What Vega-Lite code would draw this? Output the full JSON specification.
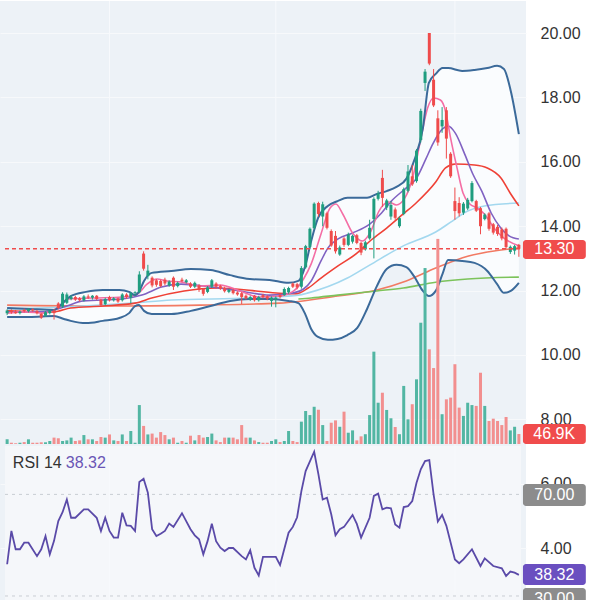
{
"$schema": "https://vega.github.io/schema/vega-lite/v6.json",
"width": 526, "height": 600, "padding": 0,
"background": "#ffffff",
"config": {"view": {"fill": "#edf2f7", "stroke": null}, "font": "Liberation Sans"},
"datasets": {
"k": [
{"i":0,"o":11.30,"h":11.42,"l":11.24,"c":11.38,"v":22},
{"i":1,"o":11.38,"h":11.42,"l":11.28,"c":11.33,"v":6},
{"i":2,"o":11.34,"h":11.40,"l":11.28,"c":11.30,"v":4},
{"i":3,"o":11.30,"h":11.38,"l":11.26,"c":11.35,"v":6},
{"i":4,"o":11.40,"h":11.44,"l":11.32,"c":11.36,"v":9},
{"i":5,"o":11.36,"h":11.46,"l":11.32,"c":11.42,"v":22},
{"i":6,"o":11.42,"h":11.45,"l":11.34,"c":11.38,"v":6},
{"i":7,"o":11.36,"h":11.40,"l":11.26,"c":11.30,"v":6},
{"i":8,"o":11.28,"h":11.30,"l":11.12,"c":11.16,"v":8},
{"i":9,"o":11.22,"h":11.36,"l":11.18,"c":11.33,"v":8},
{"i":10,"o":11.30,"h":11.40,"l":11.26,"c":11.38,"v":14},
{"i":11,"o":11.38,"h":11.42,"l":11.10,"c":11.30,"v":30},
{"i":12,"o":11.60,"h":11.64,"l":11.42,"c":11.46,"v":27},
{"i":13,"o":11.50,"h":11.95,"l":11.46,"c":11.90,"v":14},
{"i":14,"o":11.62,"h":11.94,"l":11.58,"c":11.88,"v":17},
{"i":15,"o":11.74,"h":11.86,"l":11.70,"c":11.80,"v":30},
{"i":16,"o":11.80,"h":11.84,"l":11.68,"c":11.72,"v":14},
{"i":17,"o":11.76,"h":11.80,"l":11.66,"c":11.70,"v":17},
{"i":18,"o":11.70,"h":11.86,"l":11.66,"c":11.82,"v":42},
{"i":19,"o":11.82,"h":11.88,"l":11.74,"c":11.78,"v":22},
{"i":20,"o":11.78,"h":11.86,"l":11.72,"c":11.84,"v":22},
{"i":21,"o":11.84,"h":11.86,"l":11.70,"c":11.74,"v":14},
{"i":22,"o":11.72,"h":11.74,"l":11.50,"c":11.55,"v":33},
{"i":23,"o":11.58,"h":11.78,"l":11.54,"c":11.74,"v":30},
{"i":24,"o":11.80,"h":11.84,"l":11.66,"c":11.70,"v":45},
{"i":25,"o":11.70,"h":11.80,"l":11.66,"c":11.76,"v":17},
{"i":26,"o":11.76,"h":11.78,"l":11.62,"c":11.66,"v":14},
{"i":27,"o":11.70,"h":11.92,"l":11.66,"c":11.88,"v":45},
{"i":28,"o":11.88,"h":11.92,"l":11.74,"c":11.80,"v":14},
{"i":29,"o":11.78,"h":11.96,"l":11.60,"c":11.92,"v":61},
{"i":30,"o":11.92,"h":11.98,"l":11.84,"c":11.95,"v":6},
{"i":31,"o":11.95,"h":12.60,"l":11.92,"c":12.50,"v":183},
{"i":32,"o":13.15,"h":13.22,"l":12.62,"c":12.68,"v":85},
{"i":33,"o":12.45,"h":12.80,"l":12.35,"c":12.62,"v":45},
{"i":34,"o":12.40,"h":12.44,"l":12.10,"c":12.16,"v":49},
{"i":35,"o":12.32,"h":12.36,"l":12.12,"c":12.18,"v":30},
{"i":36,"o":12.30,"h":12.34,"l":12.10,"c":12.14,"v":56},
{"i":37,"o":12.34,"h":12.40,"l":12.16,"c":12.22,"v":42},
{"i":38,"o":12.16,"h":12.32,"l":12.12,"c":12.28,"v":22},
{"i":39,"o":12.40,"h":12.44,"l":12.02,"c":12.12,"v":30},
{"i":40,"o":12.14,"h":12.28,"l":12.10,"c":12.24,"v":6},
{"i":41,"o":12.34,"h":12.40,"l":12.26,"c":12.30,"v":14},
{"i":42,"o":12.26,"h":12.36,"l":12.22,"c":12.32,"v":6},
{"i":43,"o":12.22,"h":12.26,"l":12.08,"c":12.12,"v":39},
{"i":44,"o":12.12,"h":12.28,"l":12.08,"c":12.24,"v":17},
{"i":45,"o":12.16,"h":12.20,"l":11.96,"c":12.02,"v":42},
{"i":46,"o":12.05,"h":12.08,"l":11.84,"c":11.90,"v":30},
{"i":47,"o":11.96,"h":12.14,"l":11.92,"c":12.10,"v":33},
{"i":48,"o":12.12,"h":12.36,"l":12.08,"c":12.32,"v":49},
{"i":49,"o":12.22,"h":12.26,"l":12.06,"c":12.12,"v":17},
{"i":50,"o":12.14,"h":12.18,"l":12.02,"c":12.06,"v":9},
{"i":51,"o":12.08,"h":12.12,"l":11.94,"c":11.98,"v":30},
{"i":52,"o":11.96,"h":12.06,"l":11.92,"c":12.02,"v":30},
{"i":53,"o":12.02,"h":12.06,"l":11.88,"c":11.92,"v":30},
{"i":54,"o":11.94,"h":11.98,"l":11.84,"c":11.88,"v":22},
{"i":55,"o":11.92,"h":11.96,"l":11.58,"c":11.80,"v":89},
{"i":56,"o":11.84,"h":11.88,"l":11.72,"c":11.76,"v":30},
{"i":57,"o":11.72,"h":11.84,"l":11.68,"c":11.80,"v":30},
{"i":58,"o":11.84,"h":11.86,"l":11.66,"c":11.70,"v":17},
{"i":59,"o":11.70,"h":11.84,"l":11.66,"c":11.80,"v":9},
{"i":60,"o":11.86,"h":11.90,"l":11.76,"c":11.80,"v":6},
{"i":61,"o":11.82,"h":11.86,"l":11.70,"c":11.75,"v":6},
{"i":62,"o":11.68,"h":11.82,"l":11.50,"c":11.78,"v":14},
{"i":63,"o":11.72,"h":11.82,"l":11.48,"c":11.78,"v":22},
{"i":64,"o":11.86,"h":11.90,"l":11.76,"c":11.80,"v":9},
{"i":65,"o":11.86,"h":12.10,"l":11.84,"c":12.05,"v":14},
{"i":66,"o":11.95,"h":12.12,"l":11.90,"c":12.08,"v":61},
{"i":67,"o":12.22,"h":12.25,"l":12.08,"c":12.12,"v":14},
{"i":68,"o":12.20,"h":12.24,"l":12.04,"c":12.10,"v":9},
{"i":69,"o":12.12,"h":12.76,"l":12.06,"c":12.70,"v":105},
{"i":70,"o":12.72,"h":13.42,"l":12.68,"c":13.38,"v":155},
{"i":71,"o":13.36,"h":13.96,"l":13.30,"c":13.92,"v":136},
{"i":72,"o":13.94,"h":14.74,"l":13.90,"c":14.70,"v":175},
{"i":73,"o":14.72,"h":14.76,"l":14.30,"c":14.38,"v":161},
{"i":74,"o":14.30,"h":14.76,"l":14.00,"c":14.68,"v":89},
{"i":75,"o":14.40,"h":14.45,"l":13.90,"c":13.95,"v":14},
{"i":76,"o":13.85,"h":13.90,"l":13.36,"c":13.40,"v":100},
{"i":77,"o":13.70,"h":13.85,"l":13.15,"c":13.22,"v":111},
{"i":78,"o":13.12,"h":13.40,"l":13.08,"c":13.34,"v":81},
{"i":79,"o":13.62,"h":13.66,"l":13.36,"c":13.42,"v":152},
{"i":80,"o":13.42,"h":13.80,"l":13.38,"c":13.74,"v":53},
{"i":81,"o":13.52,"h":13.74,"l":13.46,"c":13.70,"v":64},
{"i":82,"o":13.72,"h":13.76,"l":13.44,"c":13.48,"v":17},
{"i":83,"o":13.48,"h":13.52,"l":13.10,"c":13.18,"v":36},
{"i":84,"o":13.28,"h":13.55,"l":13.24,"c":13.50,"v":46},
{"i":85,"o":13.62,"h":14.20,"l":13.58,"c":13.95,"v":136},
{"i":86,"o":14.22,"h":14.90,"l":13.00,"c":14.85,"v":434},
{"i":87,"o":14.85,"h":15.10,"l":14.80,"c":15.02,"v":194},
{"i":88,"o":15.50,"h":15.75,"l":14.60,"c":14.88,"v":241},
{"i":89,"o":14.58,"h":14.85,"l":14.50,"c":14.80,"v":160},
{"i":90,"o":14.30,"h":14.78,"l":14.20,"c":14.66,"v":121},
{"i":91,"o":14.52,"h":14.58,"l":14.20,"c":14.26,"v":80},
{"i":92,"o":14.00,"h":14.30,"l":13.95,"c":14.25,"v":46},
{"i":93,"o":14.38,"h":15.20,"l":14.34,"c":15.15,"v":273},
{"i":94,"o":15.10,"h":15.90,"l":15.05,"c":15.70,"v":116},
{"i":95,"o":15.55,"h":15.90,"l":15.25,"c":15.30,"v":187},
{"i":96,"o":15.40,"h":16.40,"l":15.35,"c":16.35,"v":304},
{"i":97,"o":16.68,"h":17.65,"l":16.60,"c":17.58,"v":570},
{"i":98,"o":18.45,"h":18.88,"l":18.20,"c":18.80,"v":827},
{"i":99,"o":20.00,"h":20.00,"l":19.00,"c":19.05,"v":445},
{"i":100,"o":18.55,"h":18.88,"l":17.70,"c":17.75,"v":357},
{"i":101,"o":17.35,"h":17.60,"l":16.50,"c":16.60,"v":964},
{"i":102,"o":17.10,"h":17.70,"l":16.90,"c":17.30,"v":140},
{"i":103,"o":17.60,"h":17.70,"l":16.10,"c":16.72,"v":210},
{"i":104,"o":16.25,"h":16.30,"l":15.50,"c":15.55,"v":218},
{"i":105,"o":14.78,"h":15.20,"l":14.20,"c":14.47,"v":375},
{"i":106,"o":14.72,"h":14.90,"l":14.30,"c":14.40,"v":171},
{"i":107,"o":14.42,"h":14.75,"l":14.35,"c":14.70,"v":132},
{"i":108,"o":14.55,"h":14.88,"l":14.50,"c":14.82,"v":194},
{"i":109,"o":14.78,"h":15.40,"l":14.74,"c":15.34,"v":183},
{"i":110,"o":14.78,"h":14.82,"l":14.44,"c":14.48,"v":179},
{"i":111,"o":14.56,"h":14.60,"l":13.75,"c":14.00,"v":335},
{"i":112,"o":14.22,"h":14.40,"l":14.18,"c":14.36,"v":179},
{"i":113,"o":14.40,"h":14.44,"l":13.86,"c":13.92,"v":108},
{"i":114,"o":14.06,"h":14.10,"l":13.74,"c":13.80,"v":119},
{"i":115,"o":13.98,"h":14.04,"l":13.70,"c":13.76,"v":108},
{"i":116,"o":13.90,"h":13.96,"l":13.56,"c":13.62,"v":89},
{"i":117,"o":13.92,"h":13.96,"l":13.30,"c":13.35,"v":127},
{"i":118,"o":13.20,"h":13.40,"l":13.14,"c":13.36,"v":64},
{"i":119,"o":13.24,"h":13.42,"l":13.12,"c":13.38,"v":81},
{"i":120,"o":13.42,"h":13.45,"l":13.05,"c":13.30,"v":46.9}
],
"bb": [
{"i":0,"u":11.46,"l":11.18},{"i":5.2,"u":11.43,"l":11.18},{"i":11,"u":11.40,"l":11.21},{"i":13.3,"u":11.65,"l":11.12},
{"i":14.9,"u":11.83,"l":11.06},{"i":18.5,"u":11.96,"l":10.99},{"i":22.4,"u":12.02,"l":11.06},{"i":26.3,"u":12.02,"l":11.15},
{"i":28.6,"u":11.96,"l":11.30},{"i":30,"u":11.86,"l":11.52},{"i":30.9,"u":11.96,"l":11.55},{"i":32.1,"u":12.30,"l":11.37},
{"i":33.9,"u":12.55,"l":11.27},{"i":38.5,"u":12.61,"l":11.27},{"i":43.1,"u":12.67,"l":11.37},{"i":47.7,"u":12.64,"l":11.52},
{"i":52.3,"u":12.48,"l":11.68},{"i":56.9,"u":12.36,"l":11.74},{"i":61.5,"u":12.33,"l":11.74},{"i":66,"u":12.24,"l":11.68},
{"i":68.3,"u":12.30,"l":11.61},{"i":69.9,"u":12.76,"l":11.27},{"i":71.3,"u":13.54,"l":10.81},{"i":72.9,"u":14.25,"l":10.56},
{"i":75.2,"u":14.63,"l":10.47},{"i":77.5,"u":14.78,"l":10.50},{"i":79.8,"u":14.88,"l":10.62},{"i":82.1,"u":14.88,"l":10.84},
{"i":84.4,"u":14.88,"l":11.43},{"i":86.7,"u":15.00,"l":12.14},{"i":89,"u":15.09,"l":12.67},{"i":91.3,"u":15.22,"l":12.80},
{"i":93.6,"u":15.47,"l":12.73},{"i":95.4,"u":16.02,"l":12.45},{"i":97.5,"u":17.05,"l":11.99},{"i":98.9,"u":18.45,"l":11.83},
{"i":100.5,"u":18.73,"l":11.99},{"i":102.1,"u":18.91,"l":12.52},{"i":103.4,"u":18.91,"l":12.95},{"i":106.7,"u":18.82,"l":12.92},
{"i":109.6,"u":18.85,"l":12.86},{"i":112.6,"u":18.91,"l":12.61},{"i":114.9,"u":18.98,"l":12.20},{"i":116.5,"u":18.88,"l":11.93},
{"i":118.1,"u":18.20,"l":11.99},{"i":120,"u":16.86,"l":12.24}
],
"ln": [
{"s":"MA120","i":0,"v":11.55},{"s":"MA120","i":22.4,"v":11.52},{"s":"MA120","i":45.4,"v":11.55},{"s":"MA120","i":63.8,"v":11.61},{"s":"MA120","i":77.5,"v":11.83},{"s":"MA120","i":86.7,"v":12.02},{"s":"MA120","i":93.6,"v":12.30},{"s":"MA120","i":100.5,"v":12.70},{"s":"MA120","i":108,"v":13.07},{"s":"MA120","i":114.2,"v":13.23},{"s":"MA120","i":120,"v":13.32},
{"s":"MA250","i":68.3,"v":11.74},{"s":"MA250","i":71.3,"v":11.77},{"s":"MA250","i":77.5,"v":11.86},{"s":"MA250","i":86.7,"v":11.99},{"s":"MA250","i":92.9,"v":12.08},{"s":"MA250","i":100.5,"v":12.26},{"s":"MA250","i":108,"v":12.36},{"s":"MA250","i":120,"v":12.42},
{"s":"MA60","i":0,"v":11.43},{"s":"MA60","i":13.3,"v":11.49},{"s":"MA60","i":29.3,"v":11.61},{"s":"MA60","i":38.5,"v":11.71},{"s":"MA60","i":56.9,"v":11.77},{"s":"MA60","i":68.3,"v":11.86},{"s":"MA60","i":70.6,"v":11.93},{"s":"MA60","i":79.8,"v":12.39},{"s":"MA60","i":85.1,"v":12.80},{"s":"MA60","i":92.9,"v":13.39},{"s":"MA60","i":100.5,"v":13.82},{"s":"MA60","i":104.4,"v":14.16},{"s":"MA60","i":108,"v":14.47},{"s":"MA60","i":111.9,"v":14.63},{"s":"MA60","i":120,"v":14.72},
{"s":"MA20","i":0,"v":11.37},{"s":"MA20","i":11,"v":11.34},{"s":"MA20","i":14.9,"v":11.46},{"s":"MA20","i":22.4,"v":11.52},{"s":"MA20","i":30,"v":11.61},{"s":"MA20","i":33.9,"v":11.77},{"s":"MA20","i":41.5,"v":11.99},{"s":"MA20","i":49.3,"v":12.08},{"s":"MA20","i":57.6,"v":12.0},{"s":"MA20","i":63.8,"v":11.92},{"s":"MA20","i":67.7,"v":11.90},{"s":"MA20","i":70.6,"v":12.08},{"s":"MA20","i":73.6,"v":12.39},{"s":"MA20","i":77.5,"v":12.76},{"s":"MA20","i":82.1,"v":13.17},{"s":"MA20","i":85.1,"v":13.54},{"s":"MA20","i":89,"v":13.94},{"s":"MA20","i":92.9,"v":14.38},{"s":"MA20","i":95.9,"v":14.72},{"s":"MA20","i":100.5,"v":15.37},{"s":"MA20","i":102.8,"v":15.81},{"s":"MA20","i":105.1,"v":15.93},{"s":"MA20","i":109.6,"v":15.90},{"s":"MA20","i":112.6,"v":15.81},{"s":"MA20","i":115.8,"v":15.50},{"s":"MA20","i":118.1,"v":15.00},{"s":"MA20","i":120,"v":14.63},
{"s":"MA10","i":0,"v":11.34},{"s":"MA10","i":8.7,"v":11.34},{"s":"MA10","i":13.3,"v":11.49},{"s":"MA10","i":17.9,"v":11.68},{"s":"MA10","i":27,"v":11.74},{"s":"MA10","i":31.6,"v":11.86},{"s":"MA10","i":36.2,"v":12.11},{"s":"MA10","i":40.8,"v":12.20},{"s":"MA10","i":47.7,"v":12.11},{"s":"MA10","i":54.6,"v":11.99},{"s":"MA10","i":61.5,"v":11.86},{"s":"MA10","i":67.2,"v":11.93},{"s":"MA10","i":69.5,"v":12.05},{"s":"MA10","i":71.3,"v":12.30},{"s":"MA10","i":73.6,"v":12.92},{"s":"MA10","i":75.2,"v":13.32},{"s":"MA10","i":77.5,"v":13.60},{"s":"MA10","i":81,"v":13.79},{"s":"MA10","i":85.1,"v":14.07},{"s":"MA10","i":87.8,"v":14.41},{"s":"MA10","i":90.1,"v":14.78},{"s":"MA10","i":93.6,"v":15.19},{"s":"MA10","i":95.9,"v":15.47},{"s":"MA10","i":98.2,"v":16.09},{"s":"MA10","i":99.8,"v":16.55},{"s":"MA10","i":102.1,"v":17.02},{"s":"MA10","i":103.4,"v":17.11},{"s":"MA10","i":105.1,"v":16.89},{"s":"MA10","i":107.3,"v":16.24},{"s":"MA10","i":109.2,"v":15.62},{"s":"MA10","i":111.3,"v":15.09},{"s":"MA10","i":113.5,"v":14.41},{"s":"MA10","i":115.8,"v":13.94},{"s":"MA10","i":117.7,"v":13.70},{"s":"MA10","i":120,"v":13.60},
{"s":"MA5","i":0,"v":11.30},{"s":"MA5","i":4.1,"v":11.34},{"s":"MA5","i":8.7,"v":11.30},{"s":"MA5","i":12.1,"v":11.49},{"s":"MA5","i":14.4,"v":11.74},{"s":"MA5","i":20.2,"v":11.77},{"s":"MA5","i":27,"v":11.80},{"s":"MA5","i":30.5,"v":11.89},{"s":"MA5","i":32.8,"v":12.20},{"s":"MA5","i":35.1,"v":12.36},{"s":"MA5","i":37.4,"v":12.30},{"s":"MA5","i":40.8,"v":12.27},{"s":"MA5","i":45.4,"v":12.14},{"s":"MA5","i":50,"v":12.17},{"s":"MA5","i":54.6,"v":11.99},{"s":"MA5","i":59.2,"v":11.80},{"s":"MA5","i":63.8,"v":11.83},{"s":"MA5","i":67.2,"v":11.99},{"s":"MA5","i":69.5,"v":12.36},{"s":"MA5","i":71.3,"v":12.83},{"s":"MA5","i":73.6,"v":13.76},{"s":"MA5","i":75.7,"v":14.56},{"s":"MA5","i":77.1,"v":14.69},{"s":"MA5","i":78.7,"v":14.38},{"s":"MA5","i":81,"v":13.79},{"s":"MA5","i":83.3,"v":13.54},{"s":"MA5","i":85.1,"v":13.79},{"s":"MA5","i":87.2,"v":14.47},{"s":"MA5","i":89.5,"v":14.75},{"s":"MA5","i":91.3,"v":14.66},{"s":"MA5","i":93.1,"v":14.84},{"s":"MA5","i":95.2,"v":15.56},{"s":"MA5","i":97,"v":16.71},{"s":"MA5","i":98.6,"v":17.67},{"s":"MA5","i":100,"v":17.98},{"s":"MA5","i":101.6,"v":17.92},{"s":"MA5","i":102.8,"v":17.58},{"s":"MA5","i":103.9,"v":16.80},{"s":"MA5","i":105.5,"v":15.81},{"s":"MA5","i":106.9,"v":15.03},{"s":"MA5","i":108.5,"v":14.69},{"s":"MA5","i":110.1,"v":14.57},{"s":"MA5","i":111.9,"v":14.38},{"s":"MA5","i":114.2,"v":13.94},{"s":"MA5","i":116.5,"v":13.63},{"s":"MA5","i":120,"v":13.39}
],
"rsi": [
{"i":0,"r":42.5},{"i":1,"r":55.6},{"i":2,"r":48.4},{"i":3,"r":48.4},{"i":4,"r":51},{"i":5,"r":51},{"i":7,"r":45.7},{"i":8,"r":48.4},{"i":9,"r":53.6},{"i":10,"r":46.4},{"i":11,"r":51.7},{"i":12,"r":59.5},{"i":13,"r":63},{"i":14,"r":68},{"i":15,"r":60.8},{"i":16,"r":60.8},{"i":18,"r":64.1},{"i":19,"r":64.1},{"i":21,"r":60.8},{"i":22,"r":55.6},{"i":23,"r":60.8},{"i":24,"r":55.6},{"i":25,"r":53},{"i":26,"r":53},{"i":27,"r":62.8},{"i":28,"r":57.8},{"i":29,"r":57.6},{"i":30,"r":55.6},{"i":31,"r":74.9},{"i":32,"r":76.2},{"i":33,"r":70.7},{"i":34,"r":56.3},{"i":35,"r":53.6},{"i":36,"r":54.5},{"i":37,"r":55.6},{"i":38,"r":58.5},{"i":39,"r":57.2},{"i":41,"r":62.6},{"i":43,"r":56.3},{"i":44,"r":53.9},{"i":45,"r":52.3},{"i":46,"r":46.4},{"i":47,"r":51.6},{"i":48,"r":58.5},{"i":49,"r":51.6},{"i":50,"r":49},{"i":51,"r":47.7},{"i":52,"r":48.9},{"i":53,"r":48.9},{"i":55,"r":45.7},{"i":56,"r":44.4},{"i":57,"r":48},{"i":58,"r":41.1},{"i":59,"r":38.1},{"i":60,"r":45.4},{"i":63,"r":45.4},{"i":64,"r":42.2},{"i":66,"r":54.9},{"i":67,"r":57.2},{"i":68,"r":61},{"i":69,"r":71.3},{"i":70,"r":79.2},{"i":72,"r":86.8},{"i":73,"r":77.9},{"i":74,"r":68},{"i":75,"r":68.7},{"i":76,"r":62.2},{"i":77,"r":53.9},{"i":78,"r":56.3},{"i":79,"r":57.2},{"i":81,"r":61.9},{"i":82,"r":58.4},{"i":83,"r":53},{"i":85,"r":60.8},{"i":86,"r":69.4},{"i":87,"r":70.3},{"i":88,"r":64.1},{"i":89,"r":64.8},{"i":90,"r":64.5},{"i":91,"r":58.2},{"i":92,"r":56.9},{"i":93,"r":65},{"i":94,"r":65.4},{"i":95,"r":67.4},{"i":96,"r":74.6},{"i":97,"r":79.9},{"i":98,"r":83.1},{"i":99,"r":83.5},{"i":100,"r":70},{"i":101,"r":59.3},{"i":102,"r":61.9},{"i":103,"r":57.6},{"i":105,"r":44.4},{"i":106,"r":42.9},{"i":107,"r":44.4},{"i":109,"r":48.4},{"i":111,"r":41.8},{"i":112,"r":44.8},{"i":114,"r":41.8},{"i":116,"r":40.9},{"i":117,"r":37.9},{"i":118,"r":39.6},{"i":119,"r":39.2},{"i":120,"r":38.32}
],
"vg": [{"i":24},{"i":63},{"i":105}],
"lv": [{"r":70},{"r":30}]
},
"layer": [
{
"layer": [
{"data": {"values": [{}]}, "mark": {"type": "rect", "color": "#f5f7fa"},
 "encoding": {
  "x": {"datum": -0.5, "type": "quantitative", "scale": {"domain": [-0.5, 120.5], "nice": false, "zero": false}, "axis": null},
  "x2": {"datum": 120.5},
  "y": {"datum": 7.174, "type": "quantitative", "scale": {"domain": [2.36, 20.994], "nice": false, "zero": false}},
  "y2": {"datum": 2.36}}},
{"data": {"name": "vg"}, "mark": {"type": "rule", "color": "#f7f9fc", "strokeWidth": 1},
 "encoding": {
  "x": {"field": "i", "type": "quantitative", "scale": {"domain": [-0.5, 120.5], "nice": false, "zero": false}, "axis": null},
  "y": {"datum": 20.994, "type": "quantitative", "scale": {"domain": [2.36, 20.994], "nice": false, "zero": false}},
  "y2": {"datum": 2.36}}},
{"data": {"name": "bb"}, "mark": {"type": "area", "color": "#fafcfe", "interpolate": "monotone"},
 "encoding": {
  "x": {"field": "i", "type": "quantitative", "scale": {"domain": [-0.5, 120.5], "nice": false, "zero": false}, "axis": null},
  "y": {"field": "u", "type": "quantitative", "scale": {"domain": [2.36, 20.994], "nice": false, "zero": false}},
  "y2": {"field": "l"}}},
{"data": {"name": "ln"}, "mark": {"type": "line", "strokeWidth": 1.6, "interpolate": "monotone"},
 "encoding": {
  "x": {"field": "i", "type": "quantitative", "scale": {"domain": [-0.5, 120.5], "nice": false, "zero": false}, "axis": null},
  "y": {"field": "v", "type": "quantitative", "scale": {"domain": [2.36, 20.994], "nice": false, "zero": false}},
  "color": {"field": "s", "type": "nominal", "legend": null,
    "scale": {"domain": ["MA120","MA250","MA60","MA20","MA10","MA5"], "range": ["#f27a63","#7cc35b","#a3d8ef","#ef4136","#8062c2","#f46ea5"]}}}},
{"data": {"name": "bb"}, "mark": {"type": "line", "color": "#3b6a9a", "strokeWidth": 2, "interpolate": "monotone"},
 "encoding": {
  "x": {"field": "i", "type": "quantitative", "scale": {"domain": [-0.5, 120.5], "nice": false, "zero": false}, "axis": null},
  "y": {"field": "u", "type": "quantitative", "scale": {"domain": [2.36, 20.994], "nice": false, "zero": false}}}},
{"data": {"name": "bb"}, "mark": {"type": "line", "color": "#3b6a9a", "strokeWidth": 2, "interpolate": "monotone"},
 "encoding": {
  "x": {"field": "i", "type": "quantitative", "scale": {"domain": [-0.5, 120.5], "nice": false, "zero": false}, "axis": null},
  "y": {"field": "l", "type": "quantitative", "scale": {"domain": [2.36, 20.994], "nice": false, "zero": false}}}},
{"data": {"name": "k"}, "mark": {"type": "rule", "strokeWidth": 1},
 "encoding": {
  "x": {"field": "i", "type": "quantitative", "scale": {"domain": [-0.5, 120.5], "nice": false, "zero": false}, "axis": null},
  "y": {"field": "l", "type": "quantitative", "scale": {"domain": [2.36, 20.994], "nice": false, "zero": false}},
  "y2": {"field": "h"},
  "color": {"condition": {"test": "datum.c >= datum.o", "value": "#1f9d7f"}, "value": "#ef4b4b"}}},
{"data": {"name": "k"}, "mark": {"type": "bar", "size": 3},
 "encoding": {
  "x": {"field": "i", "type": "quantitative", "scale": {"domain": [-0.5, 120.5], "nice": false, "zero": false}, "axis": null},
  "y": {"field": "o", "type": "quantitative", "scale": {"domain": [2.36, 20.994], "nice": false, "zero": false},
        "axis": {"orient": "right", "values": [4,6,8,10,12,14,16,18,20], "format": ".2f", "labelFontSize": 16, "labelColor": "#333333", "labelFont": "Liberation Sans", "labelPadding": 14, "ticks": false, "domain": false, "grid": true, "gridColor": "#f7f9fb", "gridWidth": 1, "title": null, "labelAlign": "left", "labelBaseline": "middle"}},
  "y2": {"field": "c"},
  "color": {"condition": {"test": "datum.c >= datum.o", "value": "#1f9d7f"}, "value": "#ef4b4b"}}},
{"data": {"values": [{}]}, "mark": {"type": "rule", "color": "#f04c4c", "strokeDash": [4, 3], "strokeWidth": 1.5},
 "encoding": {
  "x": {"datum": -0.5, "type": "quantitative", "scale": {"domain": [-0.5, 120.5], "nice": false, "zero": false}, "axis": null},
  "x2": {"datum": 120.5},
  "y": {"datum": 13.3, "type": "quantitative", "scale": {"domain": [2.36, 20.994], "nice": false, "zero": false}}}},
{"data": {"values": [{}]}, "mark": {"type": "rect", "color": "#f04c4c", "cornerRadius": 3},
 "encoding": {
  "x": {"datum": 120.96, "type": "quantitative", "scale": {"domain": [-0.5, 120.5], "nice": false, "zero": false}, "axis": null},
  "x2": {"datum": 135.7},
  "y": {"datum": 13.571, "type": "quantitative", "scale": {"domain": [2.36, 20.994], "nice": false, "zero": false}},
  "y2": {"datum": 12.981}}},
{"data": {"values": [{}]}, "mark": {"type": "text", "text": "13.30", "color": "#ffffff", "fontSize": 16, "font": "Liberation Sans", "align": "center", "baseline": "middle"},
 "encoding": {
  "x": {"datum": 128.3, "type": "quantitative", "scale": {"domain": [-0.5, 120.5], "nice": false, "zero": false}, "axis": null},
  "y": {"datum": 13.28, "type": "quantitative", "scale": {"domain": [2.36, 20.994], "nice": false, "zero": false}}}}
]
},
{
"layer": [
{"data": {"name": "k"}, "mark": {"type": "bar", "size": 3},
 "encoding": {
  "x": {"field": "i", "type": "quantitative", "scale": {"domain": [-0.5, 120.5], "nice": false, "zero": false}, "axis": null},
  "y": {"field": "v", "type": "quantitative", "scale": {"domain": [-737.9, 2082.1], "nice": false, "zero": false}, "axis": null},
  "y2": {"datum": 0},
  "color": {"condition": {"test": "datum.c >= datum.o", "value": "#52b6a3"}, "value": "#f28f8f"}}},
{"data": {"values": [{}]}, "mark": {"type": "rect", "color": "#f04c4c", "cornerRadius": 3},
 "encoding": {
  "x": {"datum": 120.96, "type": "quantitative", "scale": {"domain": [-0.5, 120.5], "nice": false, "zero": false}, "axis": null},
  "x2": {"datum": 135.7},
  "y": {"datum": 94, "type": "quantitative", "scale": {"domain": [-737.9, 2082.1], "nice": false, "zero": false}, "axis": null},
  "y2": {"datum": 0}}},
{"data": {"values": [{}]}, "mark": {"type": "text", "text": "46.9K", "color": "#ffffff", "fontSize": 16, "font": "Liberation Sans", "align": "center", "baseline": "middle"},
 "encoding": {
  "x": {"datum": 128.3, "type": "quantitative", "scale": {"domain": [-0.5, 120.5], "nice": false, "zero": false}, "axis": null},
  "y": {"datum": 45, "type": "quantitative", "scale": {"domain": [-737.9, 2082.1], "nice": false, "zero": false}, "axis": null}}}
]
},
{
"layer": [
{"data": {"name": "lv"}, "mark": {"type": "rule", "color": "#c9cdd3", "strokeDash": [3, 4], "strokeWidth": 1},
 "encoding": {
  "x": {"datum": -0.5, "type": "quantitative", "scale": {"domain": [-0.5, 120.5], "nice": false, "zero": false}, "axis": null},
  "x2": {"datum": 120.5},
  "y": {"field": "r", "type": "quantitative", "scale": {"domain": [28.03, 264.25], "nice": false, "zero": false}, "axis": null}}},
{"data": {"name": "rsi"}, "mark": {"type": "line", "color": "#5a4aa8", "strokeWidth": 1.8},
 "encoding": {
  "x": {"field": "i", "type": "quantitative", "scale": {"domain": [-0.5, 120.5], "nice": false, "zero": false}, "axis": null},
  "y": {"field": "r", "type": "quantitative", "scale": {"domain": [28.03, 264.25], "nice": false, "zero": false}, "axis": null}}},
{"data": {"values": [{}]}, "mark": {"type": "text", "text": "RSI 14", "color": "#333333", "fontSize": 16, "font": "Liberation Sans", "align": "left", "baseline": "middle"},
 "encoding": {
  "x": {"datum": 1.34, "type": "quantitative", "scale": {"domain": [-0.5, 120.5], "nice": false, "zero": false}, "axis": null},
  "y": {"datum": 82.36, "type": "quantitative", "scale": {"domain": [28.03, 264.25], "nice": false, "zero": false}, "axis": null}}},
{"data": {"values": [{}]}, "mark": {"type": "text", "text": "38.32", "color": "#6a55b5", "fontSize": 16, "font": "Liberation Sans", "align": "left", "baseline": "middle"},
 "encoding": {
  "x": {"datum": 13.76, "type": "quantitative", "scale": {"domain": [-0.5, 120.5], "nice": false, "zero": false}, "axis": null},
  "y": {"datum": 82.36, "type": "quantitative", "scale": {"domain": [28.03, 264.25], "nice": false, "zero": false}, "axis": null}}},
{"data": {"values": [{}]}, "mark": {"type": "rect", "color": "#8c8c8c", "cornerRadius": 3},
 "encoding": {
  "x": {"datum": 120.96, "type": "quantitative", "scale": {"domain": [-0.5, 120.5], "nice": false, "zero": false}, "axis": null},
  "x2": {"datum": 135.7},
  "y": {"datum": 74.09, "type": "quantitative", "scale": {"domain": [28.03, 264.25], "nice": false, "zero": false}, "axis": null},
  "y2": {"datum": 65.43}}},
{"data": {"values": [{}]}, "mark": {"type": "text", "text": "70.00", "color": "#ffffff", "fontSize": 16, "font": "Liberation Sans", "align": "center", "baseline": "middle"},
 "encoding": {
  "x": {"datum": 128.3, "type": "quantitative", "scale": {"domain": [-0.5, 120.5], "nice": false, "zero": false}, "axis": null},
  "y": {"datum": 69.6, "type": "quantitative", "scale": {"domain": [28.03, 264.25], "nice": false, "zero": false}, "axis": null}}},
{"data": {"values": [{}]}, "mark": {"type": "rect", "color": "#6a4fc0", "cornerRadius": 3},
 "encoding": {
  "x": {"datum": 120.96, "type": "quantitative", "scale": {"domain": [-0.5, 120.5], "nice": false, "zero": false}, "axis": null},
  "x2": {"datum": 135.7},
  "y": {"datum": 42.6, "type": "quantitative", "scale": {"domain": [28.03, 264.25], "nice": false, "zero": false}, "axis": null},
  "y2": {"datum": 34.33}}},
{"data": {"values": [{}]}, "mark": {"type": "text", "text": "38.32", "color": "#ffffff", "fontSize": 16, "font": "Liberation Sans", "align": "center", "baseline": "middle"},
 "encoding": {
  "x": {"datum": 128.3, "type": "quantitative", "scale": {"domain": [-0.5, 120.5], "nice": false, "zero": false}, "axis": null},
  "y": {"datum": 38.1, "type": "quantitative", "scale": {"domain": [28.03, 264.25], "nice": false, "zero": false}, "axis": null}}},
{"data": {"values": [{}]}, "mark": {"type": "rect", "color": "#8c8c8c", "cornerRadius": 3},
 "encoding": {
  "x": {"datum": 120.96, "type": "quantitative", "scale": {"domain": [-0.5, 120.5], "nice": false, "zero": false}, "axis": null},
  "x2": {"datum": 135.7},
  "y": {"datum": 33.15, "type": "quantitative", "scale": {"domain": [28.03, 264.25], "nice": false, "zero": false}, "axis": null},
  "y2": {"datum": 24.88}}},
{"data": {"values": [{}]}, "mark": {"type": "text", "text": "30.00", "color": "#ffffff", "fontSize": 16, "font": "Liberation Sans", "align": "center", "baseline": "middle"},
 "encoding": {
  "x": {"datum": 128.3, "type": "quantitative", "scale": {"domain": [-0.5, 120.5], "nice": false, "zero": false}, "axis": null},
  "y": {"datum": 28.8, "type": "quantitative", "scale": {"domain": [28.03, 264.25], "nice": false, "zero": false}, "axis": null}}}
]
}
],
"resolve": {"scale": {"y": "independent"}, "axis": {"y": "independent"}}
}
